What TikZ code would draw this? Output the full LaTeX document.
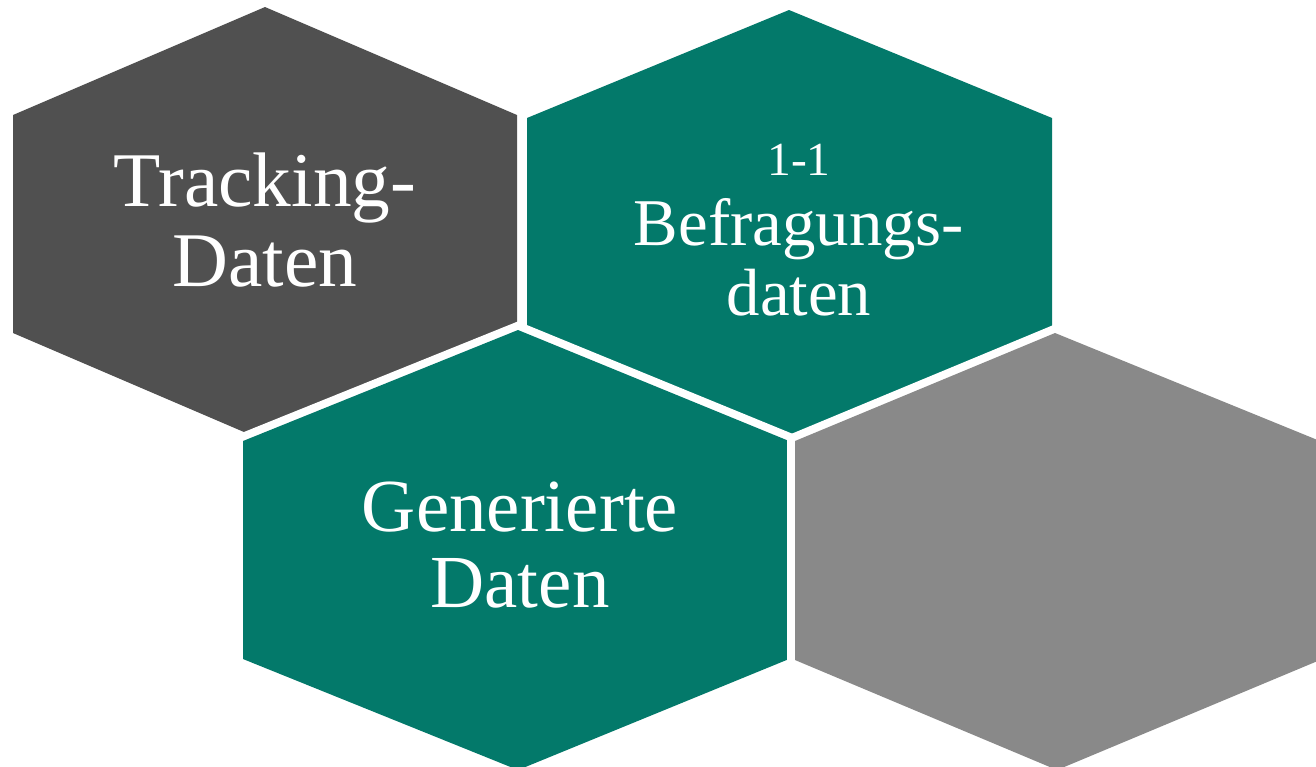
\documentclass[tikz,border=0pt]{standalone}
\usepackage{fontspec}
\setmainfont{Liberation Serif}
\usepackage{tikz}
\definecolor{darkhex}{HTML}{505050}
\definecolor{tealhex}{HTML}{03796A}
\definecolor{greyhex}{HTML}{898989}

\begin{document}
\begin{tikzpicture}[x=0.01cm,y=-0.01cm,
	hexcell/.style={fill=#1,preaction={draw=white,line width=0.16cm}},
	hextext/.style={text=white,align=center,inner sep=0pt}]
	\useasboundingbox (0,0) rectangle (1316,766);
	\fill[white] (0,0) rectangle (1316,766);
	% upper row
	\path[hexcell=darkhex] (265,7) -- (517,115) -- (517,333) -- (265,441) -- (13,333) -- (13,115) -- cycle;
	\path[hexcell=tealhex] (789,10) -- (1052,118) -- (1052,332) -- (789,440) -- (527,332) -- (527,118) -- cycle;
	% lower row, drawn over the upper one
	\path[hexcell=tealhex] (518,330) -- (789,441) -- (789,659) -- (518,770) -- (243,659) -- (243,441) -- cycle;
	\path[hexcell=greyhex] (1055,333) -- (1320,441) -- (1320,660) -- (1057,770) -- (795,660) -- (795,441) -- cycle;
	% texts
	\node[hextext,font=\fontsize{22}{23}\selectfont] (tracking) at (265,220) {Tracking-\\Daten};
	\node[hextext,font=\fontsize{19}{20}\selectfont] (befragung) at (799,230) {{\fontsize{13.5}{20}\selectfont 1-1}\\Befragungs-\\daten};
	\node[hextext,font=\fontsize{21.3}{21.6}\selectfont] (generiert) at (520,545) {Generierte\\Daten};
\end{tikzpicture}
\end{document}
